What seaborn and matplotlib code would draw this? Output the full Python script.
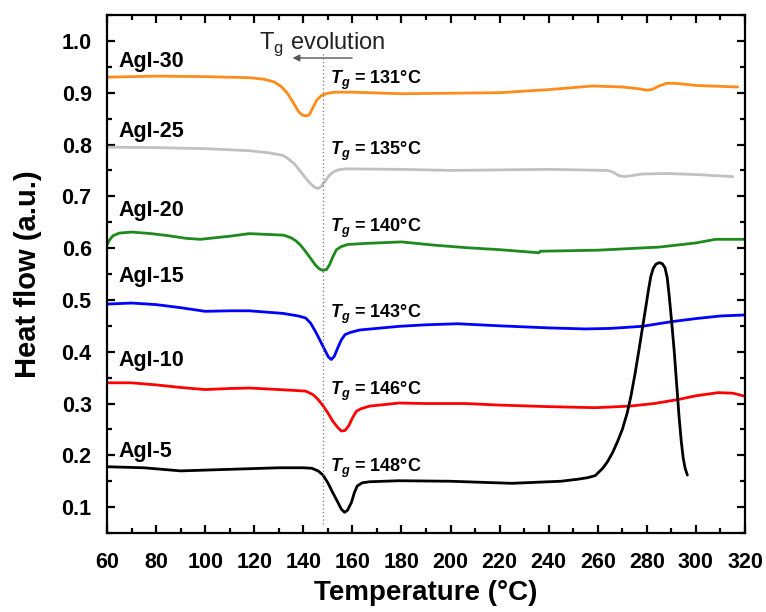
import pandas as pd
import matplotlib.pyplot as plt
from matplotlib.ticker import MultipleLocator
import seaborn as sns

# DSC traces (temperature in C, heat flow in a.u.)
t_agi30 = [60, 80, 100, 118, 124, 128, 131, 133.5, 136, 138, 139.5, 141.5, 142.5, 144, 145.5, 147.5, 150, 153, 160, 180, 200, 220, 240, 258, 270, 276, 280, 282, 285, 288, 292, 300, 317]
hf_agi30 = [0.930, 0.932, 0.931, 0.929, 0.926, 0.921, 0.912, 0.899, 0.880, 0.864, 0.857, 0.855, 0.858, 0.872, 0.886, 0.895, 0.899, 0.901, 0.901, 0.898, 0.899, 0.900, 0.906, 0.913, 0.911, 0.908, 0.905, 0.906, 0.913, 0.918, 0.918, 0.914, 0.911]

t_agi25 = [60, 80, 100, 118, 126, 131.7, 134, 136.5, 138.5, 141, 143, 144.8, 146, 147.3, 148.7, 150.5, 152.5, 155, 158, 180, 200, 220, 240, 264, 266.5, 268.5, 271, 274, 278, 288, 300, 315]
hf_agi25 = [0.795, 0.794, 0.792, 0.788, 0.784, 0.779, 0.772, 0.762, 0.750, 0.735, 0.724, 0.717, 0.715, 0.719, 0.728, 0.740, 0.748, 0.752, 0.753, 0.752, 0.750, 0.751, 0.752, 0.750, 0.746, 0.740, 0.738, 0.740, 0.743, 0.744, 0.742, 0.738]

t_agi20 = [60, 61, 62.5, 65, 70, 78, 85, 92, 98, 104, 110, 118, 132, 135, 137, 139, 141, 143, 145, 146.5, 148, 149.5, 150.7, 152, 153.5, 155.5, 158, 165, 180, 192.7, 206, 220, 236, 236.5, 260, 285, 300, 308, 320]
hf_agi20 = [0.606, 0.616, 0.624, 0.629, 0.631, 0.628, 0.624, 0.619, 0.617, 0.620, 0.623, 0.628, 0.625, 0.620, 0.614, 0.605, 0.593, 0.580, 0.567, 0.560, 0.557, 0.559, 0.568, 0.583, 0.597, 0.603, 0.607, 0.609, 0.612, 0.606, 0.601, 0.597, 0.591, 0.594, 0.596, 0.602, 0.610, 0.617, 0.617]

t_agi15 = [60, 70, 80, 90, 100, 110, 118, 131.7, 138, 141, 143, 145.3, 147, 148.7, 150.2, 151.4, 152.6, 154, 155.5, 157, 159, 163, 179, 190, 203, 220, 240, 255, 265, 278, 290, 300, 310, 320]
hf_agi15 = [0.492, 0.494, 0.491, 0.485, 0.478, 0.479, 0.479, 0.474, 0.469, 0.465, 0.455, 0.436, 0.420, 0.404, 0.390, 0.385, 0.391, 0.407, 0.423, 0.433, 0.437, 0.442, 0.449, 0.452, 0.454, 0.450, 0.446, 0.444, 0.445, 0.449, 0.458, 0.464, 0.469, 0.471]

t_agi10 = [60, 70, 80, 90, 100, 110, 118, 130, 141, 144, 146, 148, 150, 152, 154, 155.5, 157, 158.5, 160, 161.6, 163.5, 167, 179, 190, 206, 220, 240, 259, 273, 283, 293, 300, 309, 315, 320]
hf_agi10 = [0.340, 0.340, 0.336, 0.331, 0.327, 0.329, 0.330, 0.327, 0.324, 0.317, 0.308, 0.296, 0.282, 0.266, 0.254, 0.247, 0.248, 0.257, 0.272, 0.285, 0.290, 0.295, 0.301, 0.300, 0.300, 0.297, 0.294, 0.292, 0.295, 0.300, 0.308, 0.315, 0.321, 0.320, 0.314]

t_agi5 = [60, 75, 90, 110, 130, 140, 143.5, 146, 148, 150, 152, 154, 155.5, 156.8, 158, 159.6, 160.8, 162, 164, 167, 179, 200, 225, 245, 252, 256, 259, 262, 264, 266, 268, 270, 272, 273.5, 275.2, 276.8, 278.2, 279.6, 280.6, 281.6, 282.6, 283.7, 285, 286.3, 287.4, 288.3, 289, 290, 291.1, 292.1, 293.1, 294, 294.8, 295.6, 296.5]
hf_agi5 = [0.178, 0.176, 0.170, 0.173, 0.176, 0.176, 0.175, 0.170, 0.162, 0.147, 0.128, 0.110, 0.096, 0.090, 0.094, 0.109, 0.128, 0.141, 0.147, 0.149, 0.151, 0.150, 0.146, 0.150, 0.154, 0.157, 0.161, 0.175, 0.188, 0.205, 0.226, 0.250, 0.282, 0.314, 0.358, 0.404, 0.446, 0.487, 0.518, 0.545, 0.561, 0.569, 0.572, 0.570, 0.562, 0.543, 0.513, 0.463, 0.404, 0.340, 0.276, 0.228, 0.195, 0.175, 0.162]

samples = ["AgI-30", "AgI-25", "AgI-20", "AgI-15", "AgI-10", "AgI-5"]
tg_values = [131, 135, 140, 143, 146, 148]
colors = ["#ff8c1a", "#c0c0c0", "#1e8a1e", "#0000ff", "#ff0000", "#000000"]
label_y = [0.950, 0.814, 0.662, 0.535, 0.372, 0.196]
tg_label_y = [0.917, 0.779, 0.631, 0.465, 0.317, 0.167]

traces = [(t_agi30, hf_agi30), (t_agi25, hf_agi25), (t_agi20, hf_agi20),
          (t_agi15, hf_agi15), (t_agi10, hf_agi10), (t_agi5, hf_agi5)]
frames = []
for name, (t, hf) in zip(samples, traces):
    frames.append(pd.DataFrame({"T": t, "flow": hf, "sample": name}))
df = pd.concat(frames, ignore_index=True)

sns.set_style("ticks", {"axes.edgecolor": "black", "xtick.color": "black",
                        "ytick.color": "black", "text.color": "black",
                        "axes.labelcolor": "black"})
plt.rcParams['font.family'] = ['Liberation Sans', 'DejaVu Sans']
plt.rcParams['mathtext.fontset'] = 'custom'
plt.rcParams['mathtext.rm'] = 'Liberation Sans'
plt.rcParams['mathtext.bfit'] = 'Liberation Sans:bold:italic'

fig = plt.figure(figsize=(7.66, 6.12), dpi=100)
ax = fig.add_axes([0.1397, 0.129, 0.8329, 0.8465])

sns.lineplot(data=df, x="T", y="flow", hue="sample", palette=dict(zip(samples, colors)),
             sort=False, estimator=None, legend=False, linewidth=2.0,
             solid_joinstyle="round", solid_capstyle="round", ax=ax)

# Tg reference line and arrow
ax.vlines(148, 0.067, 0.975, colors="#777777", linestyles=(0, (1, 2)), linewidth=0.9)
ax.annotate("", xy=(134.5, 0.967), xytext=(161, 0.967),
            arrowprops=dict(arrowstyle="-|>", color="#555555", lw=1.0, mutation_scale=10))
ax.text(122, 0.984, r"T$_{\mathrm{g}}$ evolution", fontsize=17, color="#222222", va="baseline")

for name, ly, tg, ty in zip(samples, label_y, tg_values, tg_label_y):
    ax.text(64.5, ly, name, fontsize=15.5, fontweight="bold", va="baseline")
    ax.text(151, ty, r"$\mathbfit{T}_{\mathbfit{g}}$ = %d°C" % tg, fontsize=13,
            fontweight="bold", va="baseline")

ax.set_xlim(60, 320)
ax.set_ylim(0.05, 1.05)
ax.xaxis.set_major_locator(MultipleLocator(20))
ax.xaxis.set_minor_locator(MultipleLocator(10))
ax.yaxis.set_minor_locator(MultipleLocator(0.05))
ax.set_yticks([0.1, 0.2, 0.3, 0.4, 0.5, 0.6, 0.7, 0.8, 0.9, 1.0])
ax.tick_params(which="both", direction="in", top=True, right=True, width=1.6, color="black")
ax.tick_params(which="major", length=6, labelsize=15.5, labelcolor="black")
ax.tick_params(which="minor", length=3.5)
ax.tick_params(axis="x", which="major", pad=14)
ax.tick_params(axis="y", which="major", pad=11)
for lab in ax.get_xticklabels() + ax.get_yticklabels():
    lab.set_fontweight("bold")
for sp in ax.spines.values():
    sp.set_linewidth(1.6)
    sp.set_color("black")
    sp.set_visible(True)

ax.set_xlabel("Temperature (°C)", fontsize=20, fontweight="bold", labelpad=5)
ax.set_ylabel("Heat flow (a.u.)", fontsize=21, fontweight="bold", labelpad=14)

fig.savefig("out.png", dpi=100)
